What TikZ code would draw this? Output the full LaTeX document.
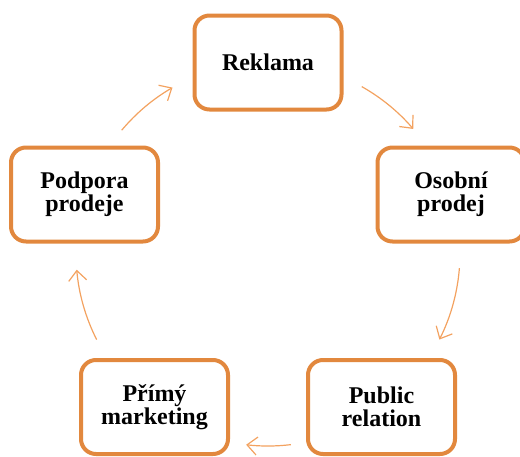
\documentclass[tikz,border=0pt]{standalone}
\usepackage{fontspec}
\setmainfont{Liberation Serif}
\usetikzlibrary{arrows.meta,calc}
\definecolor{boxc}{RGB}{226,136,62}
\definecolor{arrc}{RGB}{243,162,96}
\tikzset{
  stage/.style={draw=boxc, line width=4pt, rounded corners=15pt, fill=white,
    minimum width=147pt, minimum height=94pt, inner sep=0pt, align=center,
    font=\fontsize{24}{23}\selectfont\bfseries},
  flow/.style={draw=arrc, line width=1.2pt, -{Straight Barb[length=10pt,width=18pt]}}
}
\begin{document}
\begin{tikzpicture}[x=1pt,y=1pt]
\useasboundingbox (0,0) rectangle (520,-456);
\clip (0,0) rectangle (520,-456);
\coordinate (C) at (268,-253);
\node[stage] (rek) at (268,-62.5) {Reklama};
\node[stage] (oso) at (451,-194.5) {Osobní\\prodej};
\node[stage] (pub) at (381.5,-407) {Public\\relation};
\node[stage] (pri) at (154.5,-407) {Přímý\\marketing};
\node[stage] (pod) at (84.5,-194.5) {Podpora\\prodeje};
\coordinate (a1) at ($(C)+(140:191)$);
\coordinate (a2) at ($(C)+(60.6:191)$);
\coordinate (a3) at ($(C)+(-4.5:192)$);
\coordinate (a4) at ($(C)+(-83.2:193)$);
\coordinate (a5) at ($(C)+(206.8:192)$);
\draw[flow] (a1) arc[start angle=140, end angle=120, radius=191];
\draw[flow] (a2) arc[start angle=60.6, end angle=40.5, radius=191];
\draw[flow] (a3) arc[start angle=-4.5, end angle=-26.8, radius=192];
\draw[flow] (a4) arc[start angle=-83.2, end angle=-96.5, radius=193];
\draw[flow] (a5) arc[start angle=206.8, end angle=185, radius=192];
\end{tikzpicture}
\end{document}
